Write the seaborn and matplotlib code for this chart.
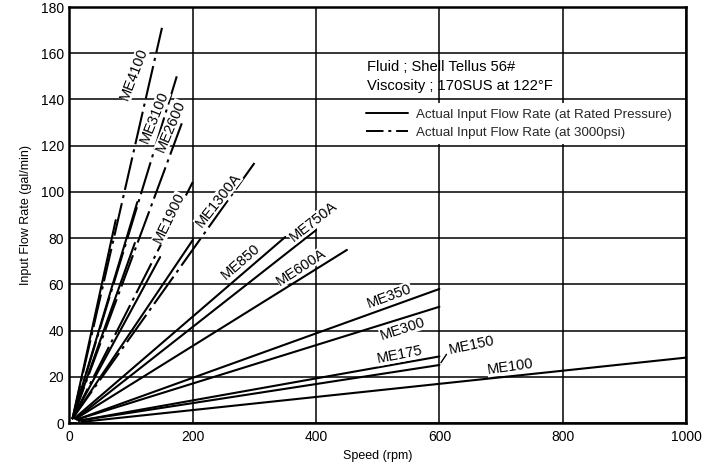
import numpy as np
import pandas as pd
import matplotlib
matplotlib.use("Agg")
import matplotlib.pyplot as plt
import seaborn as sns
from matplotlib.lines import Line2D

# ---- data ----
models = ["ME4100", "ME3100", "ME2600", "ME1900", "ME1300A", "ME850", "ME750A",
          "ME600A", "ME350", "ME300", "ME175", "ME150", "ME100"]
start_rpm = [5, 5, 5, 5, 5, 8, 10, 10, 12, 12, 15, 15, 20]
start_flow = [2, 2, 2, 2, 2, 2, 1.8, 1.8, 1.5, 1.5, 1.0, 1.0, 0.5]
rated_end_rpm = [75, 110, 106, 147, 200, 350, 400, 450, 600, 600, 600, 600, 1000]
rated_end_flow = [87.8, 95.6, 77.9, 71.8, 79.2, 80.5, 83.5, 74.9, 58.0, 50.3, 28.8, 25.1, 28.3]

psi_models = ["ME4100", "ME3100", "ME2600", "ME1900", "ME1300A"]
psi_end_rpm = [150, 174, 184, 200, 300]
psi_end_flow = [171, 150, 131, 104.3, 112.5]

# label positions (data coords) and rotation (deg)
label_rpm = [104, 138, 164, 162, 241, 277, 395, 376, 519, 540, 535, 652, 715]
label_flow = [151.0, 132.4, 128.5, 88.7, 96.5, 69.7, 87.0, 67.5, 55.0, 40.7, 29.4, 33.8, 24.2]
label_rot = [69, 68, 67, 64, 52, 41, 38, 33, 20, 18, 11, 12, 8]

x_ticks = [0, 200, 400, 600, 800, 1000]
y_ticks = [0, 20, 40, 60, 80, 100, 120, 140, 160, 180]

legend_labels = ["Actual Input Flow Rate (at Rated Pressure)",
                 "Actual Input Flow Rate (at 3000psi)"]
fluid_text = ["Fluid ; Shell Tellus 56#", "Viscosity ; 170SUS at 122°F"]

# ---- build table ----
rows = []
for i, m in enumerate(models):
    rows.append((m, "rated", start_rpm[i], start_flow[i]))
    rows.append((m, "rated", rated_end_rpm[i], rated_end_flow[i]))
for i, m in enumerate(psi_models):
    j = models.index(m)
    rows.append((m, "3000psi", start_rpm[j], start_flow[j]))
    rows.append((m, "3000psi", psi_end_rpm[i], psi_end_flow[i]))
df = pd.DataFrame(rows, columns=["model", "cond", "rpm", "flow"])
df["unit"] = df["model"] + "_" + df["cond"]

sns.set_theme(style="white")
plt.rcParams["font.family"] = ["Liberation Sans", "DejaVu Sans"]

fig = plt.figure(figsize=(7.15, 4.65), dpi=100)
ax = fig.add_axes([0.0972, 0.0903, 0.8622, 0.8946])

dash_pat = (16, 2.5, 1.5, 2.5)
sns.lineplot(data=df, x="rpm", y="flow", units="unit", style="cond",
             estimator=None, color="black",
             dashes={"rated": "", "3000psi": dash_pat},
             linewidth=1.5, legend=False, ax=ax, zorder=3)

ax.set_xlim(0, 1000)
ax.set_ylim(0, 180)
ax.set_xticks(x_ticks)
ax.set_yticks(y_ticks)
ax.grid(True, color="black", linewidth=1.1)
ax.set_axisbelow(True)
for s in ax.spines.values():
    s.set_color("black")
    s.set_linewidth(1.8)
    s.set_zorder(6)
ax.tick_params(length=0, labelsize=10, colors="black")
ax.tick_params(axis="x", pad=5)
ax.tick_params(axis="y", pad=4)
ax.set_xlabel("Speed (rpm)", fontsize=9, color="black", labelpad=4)
ax.set_ylabel("Input Flow Rate (gal/min)", fontsize=9, color="black", labelpad=6)

# model labels (drawn over the lines, breaking them like the original)
for m, x, y, r in zip(models, label_rpm, label_flow, label_rot):
    ax.text(x, y, m, rotation=r, rotation_mode="anchor", ha="center", va="center",
            fontsize=10.5, color="black", zorder=4,
            bbox=dict(facecolor="white", edgecolor="none", pad=0.1))

# ME150 leader
i150 = models.index("ME150")
ax.annotate("", xy=(rated_end_rpm[i150], rated_end_flow[i150]), xytext=(614, 30.7),
            arrowprops=dict(arrowstyle="-", color="black", lw=1.0))

# fluid info
ax.text(483, 154, fluid_text[0], fontsize=10.6, va="center", ha="left", color="black")
ax.text(483, 145.8, fluid_text[1], fontsize=10.6, va="center", ha="left", color="black")

handles = [Line2D([], [], color="black", lw=1.4, linestyle="-"),
           Line2D([], [], color="black", lw=1.4, linestyle=(0, (9, 2.5, 1.5, 2.5)))]
leg = ax.legend(handles, legend_labels, loc="upper left", bbox_to_anchor=(0.472, 0.769),
                frameon=True, fontsize=9.6, handlelength=3.2, handletextpad=0.6,
                labelspacing=0.45, borderpad=0.4, borderaxespad=0)
leg.get_frame().set_facecolor("white")
leg.get_frame().set_edgecolor("none")
leg.get_frame().set_alpha(1)
leg.get_frame().set_boxstyle("square", pad=0)
leg.set_zorder(5)

fig.savefig("out.png", dpi=100)
